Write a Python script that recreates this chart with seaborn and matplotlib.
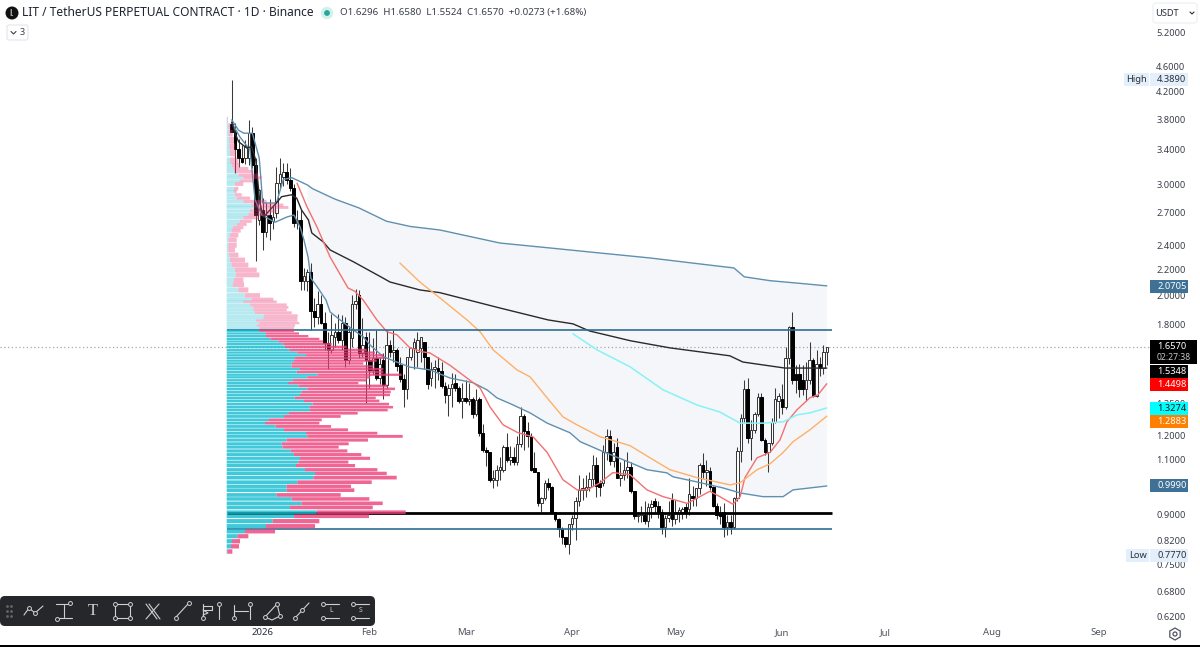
import numpy as np
import pandas as pd
import matplotlib
matplotlib.use("Agg")
import matplotlib.pyplot as plt
import matplotlib.dates as mdates
from matplotlib.patches import Rectangle, FancyBboxPatch, Circle, RegularPolygon
from matplotlib.ticker import FixedLocator, FuncFormatter, NullLocator
import seaborn as sns

# ---------- candles ----------
open_ = [3.73,3.63,3.41,3.30,3.30,3.30,3.61,3.22,2.63,2.73,
 2.52,2.68,2.62,2.70,3.01,3.08,3.13,3.05,2.96,2.60,
 2.63,2.11,2.11,2.18,1.89,1.85,1.94,1.81,1.68,1.64,
 1.72,1.75,1.70,1.81,1.58,1.71,1.94,2.00,1.62,1.72,
 1.58,1.525,1.59,1.48,1.58,1.445,1.67,1.63,1.64,1.55,
 1.475,1.42,1.60,1.65,1.63,1.65,1.69,1.60,1.48,1.53,
 1.535,1.52,1.44,1.39,1.43,1.455,1.43,1.36,1.375,1.36,
 1.37,1.30,1.37,1.21,1.14,1.13,1.02,1.02,1.06,1.06,
 1.15,1.10,1.11,1.09,1.165,1.29,1.22,1.20,1.065,1.05,
 .94,.955,1.01,.995,.91,.885,.855,.83,.81,.87,
 .89,.945,.985,.985,.995,1.025,1.08,1.01,1.01,1.13,
 1.20,1.095,1.15,1.03,1.04,1.06,1.07,.98,.895,.90,
 .90,.88,.925,.945,.93,.91,.86,.89,.95,.885,
 .905,.91,.925,.92,.965,.955,.99,1.08,1.05,1.055,
 .995,.93,.905,.91,.86,.875,.86,.955,1.135,1.28,
 1.42,1.19,1.225,1.30,1.38,1.18,1.13,1.17,1.26,1.36,
 1.37,1.33,1.59,1.78,1.50,1.50,1.47,1.42,1.47,1.58,
 1.385,1.56,1.535,1.6296]
high = [4.389,3.75,3.54,3.46,3.52,3.79,3.69,3.30,2.95,2.85,
 2.80,2.84,2.78,3.19,3.30,3.24,3.24,3.18,3.0,2.73,
 2.73,2.21,2.20,2.25,1.98,2.03,2.0,1.88,1.75,1.87,
 1.81,1.87,1.86,1.85,1.79,2.0,2.05,2.04,1.84,1.75,
 1.75,1.71,1.76,1.60,1.62,1.76,1.70,1.76,1.65,1.60,
 1.50,1.60,1.66,1.71,1.75,1.72,1.69,1.60,1.57,1.58,
 1.60,1.57,1.46,1.45,1.51,1.50,1.44,1.455,1.47,1.455,
 1.38,1.42,1.38,1.25,1.15,1.13,1.06,1.08,1.11,1.16,
 1.21,1.155,1.15,1.20,1.33,1.30,1.26,1.21,1.13,1.05,
 .96,1.02,1.03,1.0,.91,.89,.86,.83,.87,.90,
 .96,1.04,1.03,1.04,1.05,1.12,1.11,1.02,1.16,1.23,
 1.225,1.17,1.19,1.09,1.10,1.13,1.09,.98,.91,.93,
 .945,.94,.95,.955,.945,.92,.90,.945,.975,.95,
 .925,.925,.94,1.03,1.0,.99,1.085,1.125,1.10,1.07,
 1.0,.94,.93,.94,.90,.90,.96,1.15,1.30,1.47,
 1.48,1.27,1.31,1.40,1.40,1.19,1.17,1.28,1.43,1.40,
 1.45,1.655,1.79,1.88,1.55,1.56,1.55,1.57,1.69,1.59,
 1.64,1.60,1.67,1.658]
low = [3.62,3.12,3.19,3.24,3.23,3.22,3.18,2.27,2.58,2.36,
 2.47,2.45,2.55,2.65,2.95,2.98,3.00,2.92,2.57,2.55,
 2.04,2.04,2.03,1.76,1.78,1.80,1.80,1.64,1.53,1.62,
 1.66,1.68,1.64,1.54,1.56,1.66,1.90,1.59,1.60,1.35,
 1.43,1.50,1.47,1.45,1.37,1.43,1.60,1.57,1.52,1.46,
 1.33,1.37,1.58,1.53,1.54,1.57,1.53,1.42,1.44,1.43,
 1.47,1.43,1.35,1.29,1.33,1.41,1.35,1.28,1.35,1.34,
 1.28,1.29,1.20,1.13,1.075,1.015,.99,1.00,1.02,1.05,
 1.09,1.08,1.08,1.08,1.15,1.14,1.15,1.055,1.05,.93,
 .91,.95,.985,.905,.88,.83,.81,.80,.78,.85,
 .82,.93,.95,.96,.98,1.00,.96,.965,1.00,1.10,
 1.08,1.07,1.03,1.0,1.02,1.03,.975,.885,.875,.875,
 .87,.86,.89,.905,.89,.84,.83,.875,.865,.87,
 .875,.885,.89,.90,.93,.93,.97,1.03,1.00,.985,
 .925,.885,.87,.83,.835,.84,.855,.945,1.09,1.26,
 1.17,1.10,1.21,1.29,1.175,1.12,1.05,1.16,1.255,1.28,
 1.30,1.32,1.56,1.45,1.40,1.38,1.39,1.36,1.45,1.38,
 1.38,1.49,1.50,1.5524]
close = [3.63,3.41,3.30,3.25,3.44,3.61,3.22,2.68,2.94,2.52,
 2.68,2.60,2.66,3.01,3.11,3.14,3.05,2.96,2.60,2.63,
 2.11,2.15,2.18,1.89,1.85,1.94,1.81,1.68,1.64,1.73,
 1.75,1.70,1.81,1.58,1.75,1.94,1.96,1.62,1.67,1.58,
 1.525,1.59,1.48,1.56,1.445,1.67,1.63,1.64,1.545,1.475,
 1.42,1.60,1.65,1.69,1.70,1.72,1.60,1.45,1.53,1.54,
 1.52,1.44,1.39,1.43,1.45,1.43,1.36,1.375,1.36,1.37,
 1.30,1.365,1.21,1.14,1.13,1.02,1.03,1.06,1.07,1.15,
 1.10,1.11,1.09,1.165,1.29,1.22,1.20,1.06,1.05,.94,
 .955,1.01,.995,.91,.885,.855,.83,.81,.87,.89,
 .945,.985,.99,.995,1.025,1.08,1.00,.995,1.13,1.20,
 1.095,1.13,1.03,1.04,1.06,1.07,.98,.895,.90,.905,
 .88,.925,.935,.93,.91,.86,.89,.90,.885,.91,
 .915,.92,.905,.97,.955,.99,1.08,1.05,1.06,.995,
 .93,.90,.895,.86,.875,.86,.955,1.135,1.28,1.42,
 1.19,1.225,1.30,1.38,1.18,1.13,1.17,1.26,1.37,1.385,
 1.33,1.59,1.78,1.47,1.47,1.42,1.42,1.47,1.58,1.385,
 1.555,1.535,1.63,1.657]
start_date = "2025-12-23"

# ---------- indicator lines (day since start, price) ----------
upper_day = [0,2,3.5,6,8,8.5,9,13,15,17.5,22,23.5,30,37,45,52,60.5,78,92.5,107,121.6,136,146,149,156.5,165,173]
upper_px = [3.79,3.65,3.61,3.61,3.30,3.05,2.80,2.80,3.05,3.07,2.99,2.95,2.84,2.75,2.62,2.57,2.538,2.42,2.377,2.334,2.292,2.243,2.21,2.14,2.11,2.09,2.0705]
lower_day = [0,2.4,5.3,6.8,8.8,12.6,16,18.1,19.9,21,22.2,23,24.8,27.4,28.6,31.5,35.3,38.2,40.2,44,48,51.8,57.6,63.5,70.2,74.2,77.1,81.8,86.7,91.7,98.3,101.3,108,115.8,120.7,126.5,128.3,135.2,142.8,147.8,154.4,160.3,163.2,168.1,173]
lower_px = [3.75,3.56,3.40,2.83,2.68,2.61,2.66,2.68,2.565,2.447,2.30,2.13,2.065,1.967,1.883,1.829,1.764,1.72,1.67,1.60,1.569,1.54,1.525,1.48,1.455,1.418,1.377,1.342,1.304,1.256,1.213,1.174,1.132,1.088,1.06,1.048,1.033,1.014,.992,.974,.961,.961,.985,.992,.999]
mid_day = [0,1,2,4.4,5.8,7,8.2,9.2,13,14.5,17.4,18.9,20.3,22.3,23.3,26.6,28.6,35.4,44,46,54.7,60.5,78,92,99.2,104,116,127.4,144.8,148.6,160.8,173]
mid_px = [3.76,3.61,3.50,3.42,3.44,3.27,2.80,2.66,2.80,2.865,2.885,2.85,2.73,2.632,2.51,2.43,2.36,2.26,2.13,2.10,2.04,2.02,1.91,1.829,1.803,1.757,1.695,1.652,1.605,1.569,1.535,1.5348]
red_day = [19,21.9,24.8,28.6,33.8,35.8,38.2,42.2,45.1,48,51.8,55.6,57.6,63.5,72.2,75.1,78.9,83.2,87.6,91.7,96.3,100.4,103.3,107.1,110.8,115.8,120.7,125.4,132.4,136.1,139,141.9,145.7,147.8,149.2,152.7,156.5,159.4,161.4,164.3,168.1,170.4,173]
red_px = [3.01,2.76,2.565,2.30,2.055,2.03,1.967,1.829,1.752,1.733,1.652,1.628,1.622,1.55,1.428,1.332,1.248,1.213,1.195,1.129,1.022,.985,.985,1.011,1.049,1.041,.985,.961,.938,.961,.98,.961,.935,.961,1.03,1.107,1.129,1.182,1.262,1.318,1.378,1.392,1.4498]
orange_day = [48.9,54.7,60.5,68.4,72.2,76,82.9,86.7,91.7,96.3,100.4,107.1,112,115.8,121.6,127.4,135.2,144.9,147.8,152.7,156.5,160.3,163.2,168.1,173]
orange_px = [2.25,2.10,1.982,1.829,1.752,1.64,1.525,1.487,1.377,1.285,1.248,1.195,1.174,1.157,1.107,1.06,1.03,1.003,1.011,1.06,1.083,1.129,1.174,1.226,1.2883]
cyan_day = [99.2,106.2,115.8,125.4,135.2,141.9,147.8,154.4,160.3,164.3,168.1,173]
cyan_px = [1.739,1.64,1.542,1.418,1.342,1.308,1.256,1.256,1.262,1.294,1.304,1.3274]

level_top = 1.764
level_thick = 0.9054
level_bottom = 0.8546
last_price = 1.657

# ---------- volume profile rows ----------
vp_price = [.787,.802,.817,.832,.847,.863,.879,.895,.908,.924,.938,.953,.967,.984,.998,1.013,1.030,1.046,1.060,1.076,1.090,1.105,1.120,1.135,1.151,1.165,1.181,1.197,1.211,1.226,1.241,1.256,1.271,1.287,1.302,1.317,1.331,1.346,1.362,1.377,1.392,1.407,1.423,1.439,1.453,1.468,1.484,1.498,1.513,1.529,1.544,1.561,1.577,1.593,1.608,1.624,1.640,1.658,1.675,1.691,1.707,1.724,1.741,1.758]
vp_up = [2,13,16,32,55,118,138,202,270,190,225,195,150,180,180,212,260,265,235,208,215,220,202,192,168,165,180,242,238,172,147,115,127,172,187,250,248,258,232,204,220,225,242,215,184,199,242,273,210,220,195,195,202,205,238,212,188,175,170,155,132,118,118,98]
vp_total = [17,37,40,65,145,265,278,427,537,438,468,428,342,383,373,435,510,480,452,385,365,430,404,362,336,366,424,528,452,364,313,278,285,342,393,483,499,487,458,447,490,492,505,483,395,420,430,525,470,470,440,410,450,475,470,445,420,360,315,290,278,245,217,202]
vp2_price = [1.776,1.792,1.808,1.825,1.841,1.858,1.878,1.897,1.915,1.933,1.954,1.972,2.00,2.04,2.08,2.116,2.155,2.194,2.234,2.275,2.317,2.36,2.40,2.447,2.49,2.53,2.56,2.59,2.62,2.655,2.685,2.72,2.755,2.78,2.815,2.85,2.885,2.92,2.95,3.00,3.035,3.07,3.10,3.14,3.175,3.215,3.27,3.36,3.44,3.52,3.61,3.70,3.79]
vp2_up = [98,90,98,88,110,112,85,80,80,70,50,75,55,35,18,22,28,25,15,10,8,5,5,6,10,15,18,30,40,50,65,70,85,75,50,30,25,22,22,25,38,50,35,22,20,15,10,10,8,8,6,5,2]
vp2_total = [202,205,218,212,212,213,195,180,185,180,150,140,100,65,52,50,98,90,65,55,35,25,30,30,35,42,50,60,75,95,130,150,185,170,120,70,45,30,35,50,80,105,95,80,65,40,35,28,25,22,18,12,4]

# ---------- axis labels ----------
price_ticks = [5.2,4.6,4.2,3.8,3.4,3.0,2.7,2.4,2.2,2.0,1.8,1.35,1.2,1.1,0.9,0.82,0.75,0.68,0.62]
month_dates = ["2026-01-01","2026-02-01","2026-03-01","2026-04-01","2026-05-01","2026-06-01","2026-07-01","2026-08-01","2026-09-01"]
month_labels = ["2026","Feb","Mar","Apr","May","Jun","Jul","Aug","Sep"]
tag_texts = ["2.0705","1.6570","1.5348","1.4498","1.3274","1.2883","0.9990"]

# ---------- figure ----------
sns.set_theme(style="white")
FONT = ["Noto Sans", "DejaVu Sans"]
plt.rcParams["font.family"] = FONT
W, H = 1200, 647
fig = plt.figure(figsize=(W / 100, H / 100), dpi=100, facecolor="white")
ax = fig.add_axes([0, 25 / H, 1150 / W, 622 / H])
ax.set_yscale("log")
base = mdates.date2num(pd.Timestamp(start_date))
dates = base + np.arange(len(open_))
o, h_, l, c = map(np.array, (open_, high, low, close))

ax.fill(np.r_[base + np.array(upper_day[10:]), base + np.array(lower_day[10:])[::-1]],
        np.r_[upper_px[10:], np.array(lower_px[10:])[::-1]],
        color="#f5f6f9", lw=0, zorder=0.5)

ax.vlines(dates, l, h_, color="#3a3a3a", lw=0.75, zorder=2)
up = c >= o
ax.bar(dates[up], (c - o)[up], bottom=o[up], width=0.72, color="white", edgecolor="#333333", lw=0.7, zorder=3)
ax.bar(dates[~up], (o - c)[~up], bottom=c[~up], width=0.78, color="black", edgecolor="black", lw=0.7, zorder=3)

for d, p, col, lw_ in [(upper_day, upper_px, "#5f90b0", 1.0), (lower_day, lower_px, "#5f90b0", 1.0),
                       (mid_day, mid_px, "#2a2a2a", 1.0), (red_day, red_px, "#f47070", 1.0),
                       (orange_day, orange_px, "#ffb066", 1.0), (cyan_day, cyan_px, "#86f2f7", 1.1)]:
    sns.lineplot(x=base + np.array(d), y=p, ax=ax, color=col, linewidth=lw_, estimator=None,
                 sort=False, legend=False, zorder=4)

x0, x1 = base - 1.4, base + 174.4
ax.hlines([level_top, level_bottom], x0, x1, color="#2f6d92", lw=1.2, zorder=4)
ax.hlines(level_thick, x0, x1, color="black", lw=2.0, zorder=4)
ax.axhline(last_price, color="#a8a8a8", lw=0.9, ls=(0, (1, 2)), zorder=1)

ax.set_xlim(base - 231.7 / 3.44, base + (1150 - 231.7) / 3.44)
ax.set_ylim(0.6088, 5.864)
ax.yaxis.tick_right()
ax.yaxis.set_major_locator(FixedLocator(price_ticks))
ax.yaxis.set_major_formatter(FuncFormatter(lambda v, _: f"{v:.4f}"))
ax.yaxis.set_minor_locator(NullLocator())
ax.tick_params(axis="y", length=0, pad=4.5, labelsize=6.7, labelcolor="#3a3f4a")
ax.set_xticks(mdates.date2num(pd.to_datetime(month_dates)))
ax.set_xticklabels(month_labels)
ax.tick_params(axis="x", length=0, pad=4.5, labelsize=6.9, labelcolor="#50555f")
ax.get_xticklabels()[0].set_fontweight("bold")
ax.get_xticklabels()[0].set_color("#2a2e39")
for s in ax.spines.values():
    s.set_visible(False)
ax.patch.set_alpha(0)

# volume profile on its own x scale, over the candles
ax2 = ax.twiny()
ax2.set_zorder(ax.get_zorder() + 1)
ax2.patch.set_visible(False)
def rows(price, ups, total, a_c, a_p, fill):
    price, ups, total = map(np.array, (price, ups, total))
    hh = np.gradient(price) * fill
    b1 = ax2.barh(price, ups, height=hh, color="#12bcd0", alpha=a_c, lw=0)
    b2 = ax2.barh(price, total - ups, left=ups, height=hh, color="#ec3f78", alpha=a_p, lw=0)
    for patch in list(b1) + list(b2):
        patch.set_snap(False)
rows(vp_price, vp_up, vp_total, 0.80, 0.80, 0.84)
rows(vp2_price, vp2_up, vp2_total, 0.30, 0.38, 0.96)
ax2.set_xlim((0 - 226.7) * 3, (1150 - 226.7) * 3)
ax2.xaxis.set_visible(False)
for s in ax2.spines.values():
    s.set_visible(False)

# ---------- chart interface in pixel space ----------
ov = fig.add_axes([0, 0, 1, 1], xlim=(0, W), ylim=(H, 0), zorder=10)
ov.axis("off")
ov.patch.set_alpha(0)

def box(x, y, w, h, col, z=5):
    ov.add_patch(Rectangle((x, y), w, h, fc=col, ec="none", zorder=z))
def label(x, y, s, col="#2a2e39", size=6.7, ha="left", **kw):
    ov.text(x, y, s, color=col, fontsize=size, ha=ha, va="center", zorder=7, **kw)

# header
ov.add_patch(Circle((12, 13), 6.5, fc="#111111", ec="none", zorder=6))
label(12, 13, "l.", col="white", size=6.5, ha="center", fontweight="bold")
label(22, 13, "LIT / TetherUS PERPETUAL CONTRACT · 1D · Binance", col="#1f2430", size=8.6)
ov.add_patch(Circle((327, 13), 6.2, fc="#d4f0ea", ec="none", zorder=6))
ov.add_patch(Circle((327, 13), 2.9, fc="#26a69a", ec="none", zorder=6))
label(340, 13, "O1.6296  H1.6580  L1.5524  C1.6570  +0.0273 (+1.68%)", col="#3a3f4a", size=7.0)
ov.add_patch(FancyBboxPatch((7, 25), 21, 15, boxstyle="round,pad=0,rounding_size=2", fc="white", ec="#e3e5ea", lw=0.8, zorder=6))
ov.plot([11, 13.5, 16], [31.5, 34, 31.5], color="#3a3f4a", lw=0.8, zorder=7)
label(20, 32.5, "3", col="#3a3f4a", size=6.5)

# currency
ov.add_patch(FancyBboxPatch((1153, 3), 44, 20, boxstyle="round,pad=0,rounding_size=3", fc="white", ec="#eceef2", lw=0.8, zorder=6))
label(1155.5, 13.5, "USDT", col="#2a2e39", size=6.7)
ov.plot([1190, 1192, 1194], [12, 14, 12], color="#2a2e39", lw=0.8, zorder=7)

# high / low
box(1124, 73, 25, 13, "#e3effb")
box(1150, 73, 38, 13, "#e3effb")
label(1136.5, 79.5, "High", size=6.7, ha="center")
label(1157, 79.5, "4.3890")
box(1126, 549, 23, 13, "#e3effb")
box(1150, 549, 38, 13, "#e3effb")
label(1137.5, 555.5, "Low", size=6.7, ha="center")
label(1157, 555.5, "0.7770")

# price tags
tags = [(280, tag_texts[0], "#3f7196", "white"), (365, tag_texts[2], "black", "white"),
        (378, tag_texts[3], "#ff0000", "white"), (402, tag_texts[4], "#00ffff", "#111111"),
        (415, tag_texts[5], "#ff8000", "white"), (479, tag_texts[6], "#3f7196", "white")]
for y, s, fc, tc in tags:
    box(1150, y, 38, 13, fc)
    label(1157, y + 6.5, s, col=tc)
box(1150, 340, 47, 24, "black")
label(1157, 346.5, tag_texts[1], col="white")
label(1157, 358, "02:27:38", col="#c8c8c8", size=6.2)

# bottom edge and settings
box(0, 645, W, 2, "black")
ov.add_patch(RegularPolygon((1175, 634), 6, radius=6, fc="none", ec="#50555f", lw=0.9, zorder=6))
ov.add_patch(Circle((1175, 634), 2, fc="none", ec="#50555f", lw=0.9, zorder=6))

# drawing toolbar
ov.add_patch(FancyBboxPatch((0, 596), 375, 30, boxstyle="round,pad=0,rounding_size=5", fc="#26272b", ec="none", zorder=5))
INK = "#d0d0d0"
def pl(*pts, lw=0.8):
    xs, ys = zip(*pts)
    ov.plot(xs, ys, color=INK, lw=lw, zorder=7, solid_capstyle="round")
def dot(*pts):
    xs, ys = zip(*pts)
    ov.plot(xs, ys, ls="", marker="o", ms=2.8, mfc="#26272b", mec=INK, mew=0.7, zorder=8)
ov.plot([7, 7, 7, 11, 11, 11], [606, 611, 616, 606, 611, 616], ls="", marker="s", ms=0.9, color="#666666", zorder=7)
pl((24, 615), (29, 608), (35, 613), (43, 606)); dot((29, 608), (35, 613))
pl((56, 604), (69, 604)); pl((58, 618), (72, 618)); pl((64, 605), (64, 617)); dot((70, 603), (57, 619))
ov.text(93, 611, "T", color=INK, fontsize=12, family="Liberation Serif", ha="center", va="center", zorder=7)
pl((115, 604), (130, 604), (130, 618), (115, 618), (115, 604)); dot((115, 604), (130, 604), (130, 618), (115, 618))
pl((146, 604), (157, 619)); pl((149, 604), (160, 619)); pl((159, 604), (146, 619))
pl((176, 617), (188, 604)); dot((176, 618), (189, 603))
pl((203, 604), (203, 618)); pl((203, 606), (212, 606), (212, 610), (203, 610)); pl((203, 610), (208, 613), (203, 615)); dot((203, 618), (219, 604))
pl((219, 605), (219, 619))
pl((234, 605), (234, 619)); pl((234, 611), (248, 611)); pl((250, 605), (250, 619)); dot((234, 618), (250, 604))
pl((265, 617), (277, 604), (280, 616), (272, 620), (265, 617)); dot((265, 617), (277, 604), (280, 616))
pl((295, 618), (309, 603)); dot((295, 618), (302, 610))
for x_, ch in [(330, "L"), (360, "S")]:
    pl((x_ - 7, 604), (x_ + 9, 604)); pl((x_ - 7, 618), (x_ + 9, 618)); dot((x_ - 7, 604), (x_ - 7, 618))
    label(x_ + 1, 610.5, ch, col=INK, size=5, ha="center")

fig.savefig("out.png", dpi=100)
